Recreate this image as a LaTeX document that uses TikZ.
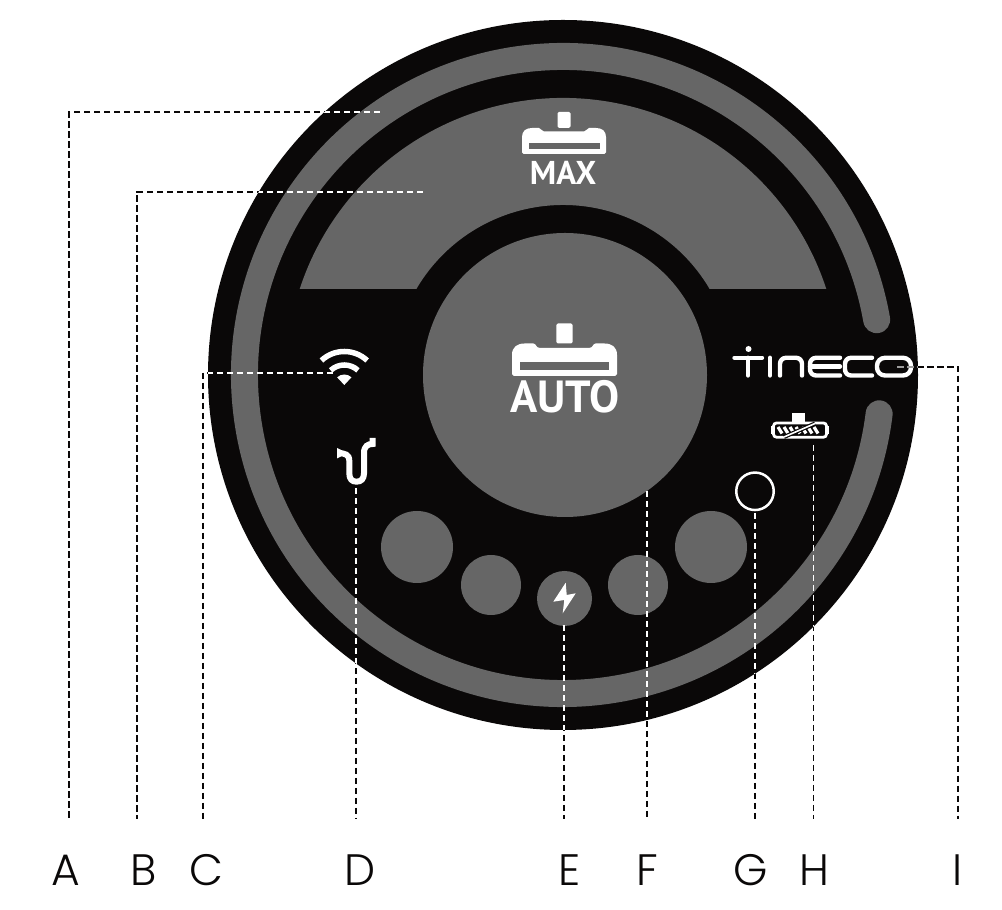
\documentclass[tikz,border=0pt]{standalone}
\usepackage{fontspec}
\setmainfont{Poppins}[UprightFont=* Light]
\newfontfamily\iconfont{PT Sans}
\usetikzlibrary{calc}

\definecolor{panel}{HTML}{0A0808}
\definecolor{padgrey}{HTML}{666666}

\tikzset{
  padcircle/.style={circle,fill=padgrey,inner sep=0pt},
  leader/.style={line width=1.9pt,dash pattern=on 6.5pt off 3.5pt},
  lettertext/.style={anchor=base,inner sep=0pt,text=panel,font=\fontsize{44}{50}\selectfont},
  modetext/.style={anchor=base,inner sep=0pt,text=white,font=\iconfont\bfseries},
  logostroke/.style={draw=white,line width=4.4pt,line cap=round,line join=round,rounded corners=6pt},
  pics/nozzle/.style={code={
    \fill[white] (-42,1.5) -- (-42,17) .. controls (-42,23) and (-38,26) .. (-32,26) -- (-25,26)
      .. controls (-22.5,26) and (-23,22.5) .. (-20,22.5) -- (20,22.5)
      .. controls (23,22.5) and (22.5,26) .. (25,26) -- (32,26)
      .. controls (38,26) and (42,23) .. (42,17) -- (42,1.5) -- (40.5,0) -- (-40.5,0) -- cycle;
    \fill[padgrey] (-35.5,5) rectangle (35.5,11);
    \fill[white,rounded corners=1.5pt] (-6.5,26) rectangle (6.5,42);
  }}
}

\begin{document}
\begin{tikzpicture}[x=1pt,y=1pt]
\useasboundingbox (0,0) rectangle (1002,910);

\coordinate (hub) at (563,535);
\fill[panel] (hub) circle (355);

% outer ring with the gap at the logo
\draw[padgrey,line width=27pt,line cap=round] ($(hub)+(10:318.5)$) arc[start angle=10,end angle=353,radius=318.5];

% upper segment
\fill[padgrey] ($(hub)+(18.09:277)$) arc[start angle=18.09,end angle=161.91,radius=277]
  -- ($(hub)+(149.6:170)$) arc[start angle=149.6,end angle=30.4,radius=170] -- cycle;

\node[padcircle,minimum size=284] (autopad) at (565,535) {};
\node[padcircle,minimum size=72] (padA) at (417,363) {};
\node[padcircle,minimum size=60] (padB) at (491,325) {};
\node[padcircle,minimum size=55] (padC) at (564.5,311.5) {};
\node[padcircle,minimum size=60] (padD) at (638,325) {};
\node[padcircle,minimum size=72] (padE) at (711,363) {};
\node[circle,draw=white,line width=2.5pt,minimum size=37.5,inner sep=0pt] (lamp) at (755,418.7) {};

\pic at (564,756) {nozzle};
\node[modetext,font=\iconfont\bfseries\fontsize{33}{36}\selectfont] (maxtext) at (563,725) {MAX};
\pic[scale=1.25] at (564.5,534) {nozzle};
\node[modetext,font=\iconfont\bfseries\fontsize{45}{48}\selectfont] (autotext) at (565,497) {AUTO};

% wifi
\coordinate (wifi) at (344.3,525);
\draw[white,line width=5.5pt] ($(wifi)+(47:33.5)$) arc[start angle=47,end angle=133,radius=33.5];
\draw[white,line width=5.5pt] ($(wifi)+(47:20)$) arc[start angle=47,end angle=133,radius=20];
\fill[white] (wifi) -- ($(wifi)+(47:10.5)$) arc[start angle=47,end angle=133,radius=10.5] -- cycle;

% drain
\draw[white,line width=6pt] (339,457.3) .. controls (345,456) and (349.3,456) .. (349.3,449) -- (349.3,436.7)
  .. controls (349.3,431) and (352,428.3) .. (356.5,428.3) .. controls (361,428.3) and (364,431) .. (364,436.7)
  -- (364,457) .. controls (364,464) and (368,466) .. (372.5,466) -- (372.5,472);
\fill[white] (337,451.5) -- (337,462) -- (342,459.5) -- (342,454) -- cycle;

% bolt
\fill[white] (565.7,327.3) -- (553.3,308.3) -- (564.3,310) -- (562.7,296.7) -- (575.7,316.7) -- (566.7,315) -- cycle;

% logo
\fill[white] (748.5,561) circle (3);
\draw[logostroke,rounded corners=0pt] (734.5,552.2) -- (762,552.2);
\draw[logostroke,rounded corners=0pt] (748,552.2) -- (748,534.5);
\draw[logostroke,rounded corners=0pt] (770,552.2) -- (770,534.5);
\draw[logostroke] (780,534.5) -- (780,552.2) -- (802,552.2) -- (802,534.5);
\draw[logostroke] (840,552.2) -- (810,552.2) -- (810,534.5) -- (840,534.5);
\draw[logostroke,rounded corners=0pt] (810,543.5) -- (840,543.5);
\draw[logostroke] (872,552.2) -- (845,552.2) -- (845,534.5) -- (872,534.5);
\draw[logostroke,rounded corners=8pt] (877,534.5) rectangle (911,552.2);

% battery
\fill[white] (792.3,486) rectangle (805,497);
\fill[white] (771,476) rectangle (829,484);
\draw[white,line width=2.8pt,fill=panel,rounded corners=3pt] (773.5,472.8) rectangle (826.5,487);
\foreach \x in {778,784,...,814}
  \draw[white,line width=3.2pt] (\x,483) -- (\x+4,476.5);
\draw[panel,line width=4pt] (784,473) -- (815,486.5);
\draw[white,line width=1.6pt] (784,473) -- (815,486.5);

% leaders and letters
\foreach \l/\sx/\sy/\ex/\tx in {A/380/798/69.3/66,B/423/718.3/136.7/143.5,C/333/537.3/203/206,
  D/356/422/356/360,E/564.3/285/564.3/569.5,F/646.7/419/646.7/647,G/755/397/755/751,
  H/813.5/465/813.5/814,I/897/543.3/958/958}{
  \coordinate (start\l) at (\sx,\sy);
  \coordinate (end\l) at (\ex,91);
  \node[lettertext] (letter\l) at (\tx,24) {\l};
  \draw[leader,panel] (start\l) -| (end\l);
}
\begin{scope}
\clip (hub) circle (355);
\foreach \l in {A,B,C,D,E,F,G,H}
  \draw[leader,white] (start\l) -| (end\l);
\draw[leader,white!60!panel] (startI) -| (endI);
\end{scope}
\end{tikzpicture}
\end{document}
